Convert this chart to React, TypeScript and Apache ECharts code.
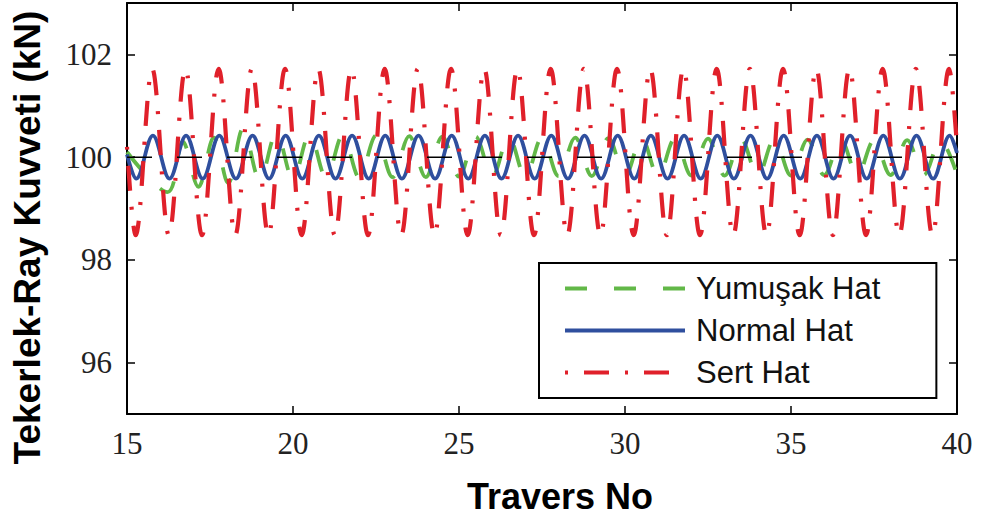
import React, { useEffect, useRef } from 'react';
import * as echarts from 'echarts';

const xTicks = [15, 20, 25, 30, 35, 40];
const yTicks = [96, 98, 100, 102];
const seriesNames = ['Yumuşak Hat', 'Normal Hat', 'Sert Hat'];
const xTitle = 'Travers No';
const yTitle = 'Tekerlek-Ray Kuvveti (kN)';

const referenceLine = [[15, 100], [40, 100]];

const yumusak = [
  [15.0, 100.1], [16.22, 99.32], [16.68, 100.3], [17.15, 99.42], [17.62, 100.38], [18.05, 99.5],
  [18.5, 100.56], [19.0, 99.56], [19.5, 100.46], [20.0, 99.58], [20.5, 100.44], [21.0, 99.6],
  [21.5, 100.43], [22.0, 99.6], [22.5, 100.42], [23.0, 99.61], [23.5, 100.41], [24.0, 99.61],
  [24.5, 100.4], [25.0, 99.62], [25.5, 100.4], [26.0, 99.62], [26.5, 100.39], [27.0, 99.62],
  [27.5, 100.38], [28.0, 99.63], [28.5, 100.38], [29.0, 99.63], [29.5, 100.37], [30.0, 99.63],
  [30.5, 100.37], [31.0, 99.63], [31.5, 100.36], [32.0, 99.64], [32.5, 100.36], [33.0, 99.64],
  [33.5, 100.35], [34.0, 99.64], [34.5, 100.35], [35.0, 99.64], [35.5, 100.34], [36.0, 99.65],
  [36.5, 100.34], [37.0, 99.65], [37.5, 100.33], [38.0, 99.65], [38.5, 100.33], [39.0, 99.65],
  [39.5, 100.32], [40.0, 99.66],
];

const normal = [
  [15.0, 100.05], [15.28, 99.58], [15.78, 100.42], [16.28, 99.58], [16.78, 100.42], [17.28, 99.58],
  [17.78, 100.42], [18.28, 99.58], [18.78, 100.42], [19.28, 99.58], [19.78, 100.42], [20.28, 99.58],
  [20.78, 100.42], [21.28, 99.58], [21.78, 100.42], [22.28, 99.58], [22.78, 100.42], [23.28, 99.58],
  [23.78, 100.42], [24.28, 99.58], [24.78, 100.42], [25.28, 99.58], [25.78, 100.42], [26.28, 99.58],
  [26.78, 100.42], [27.28, 99.58], [27.78, 100.42], [28.28, 99.58], [28.78, 100.42], [29.28, 99.58],
  [29.78, 100.42], [30.28, 99.58], [30.78, 100.42], [31.28, 99.58], [31.78, 100.42], [32.28, 99.58],
  [32.78, 100.42], [33.28, 99.58], [33.78, 100.42], [34.28, 99.58], [34.78, 100.42], [35.28, 99.58],
  [35.78, 100.42], [36.28, 99.58], [36.78, 100.42], [37.28, 99.58], [37.78, 100.42], [38.28, 99.58],
  [38.78, 100.42], [39.28, 99.58], [39.78, 100.42], [40.0, 100.08],
];

const sert = [
  [15.0, 100.2], [15.26, 98.48], [15.76, 101.72], [16.26, 98.48], [16.76, 101.72], [17.26, 98.48],
  [17.76, 101.72], [18.26, 98.48], [18.76, 101.72], [19.26, 98.48], [19.76, 101.72], [20.26, 98.48],
  [20.76, 101.72], [21.26, 98.48], [21.76, 101.72], [22.26, 98.48], [22.76, 101.72], [23.26, 98.48],
  [23.76, 101.72], [24.26, 98.48], [24.76, 101.72], [25.26, 98.48], [25.76, 101.72], [26.26, 98.48],
  [26.76, 101.72], [27.26, 98.48], [27.76, 101.72], [28.26, 98.48], [28.76, 101.72], [29.26, 98.48],
  [29.76, 101.72], [30.26, 98.48], [30.76, 101.72], [31.26, 98.48], [31.76, 101.72], [32.26, 98.48],
  [32.76, 101.72], [33.26, 98.48], [33.76, 101.72], [34.26, 98.48], [34.76, 101.72], [35.26, 98.48],
  [35.76, 101.72], [36.26, 98.48], [36.76, 101.72], [37.26, 98.48], [37.76, 101.72], [38.26, 98.48],
  [38.76, 101.72], [39.26, 98.48], [39.76, 101.72], [40.0, 100.2],
];

const GREEN = '#62b848';
const BLUE = '#2f4f9e';
const RED = '#e0202a';

export default function App() {
  const ref = useRef<HTMLDivElement>(null);
  useEffect(() => {
    if (!ref.current) return;
    const chart = echarts.init(ref.current, null, { renderer: 'svg' });
    const serif = '"Liberation Serif", "Times New Roman", serif';
    const sans = '"Liberation Sans", Arial, sans-serif';
    const axisLine = { show: true, onZero: false, lineStyle: { color: '#000', width: 2 } };
    const tick = { show: true, inside: true, length: 8, lineStyle: { color: '#000', width: 1.5 } };

    chart.setOption({
      animation: false,
      backgroundColor: '#fff',
      grid: { left: 127, top: 3, width: 830, height: 412, containLabel: false },
      xAxis: [
        {
          type: 'value', position: 'bottom', min: 15, max: 40, interval: 5,
          axisLine, axisTick: { ...tick, customValues: xTicks },
          axisLabel: { customValues: xTicks, fontFamily: serif, fontSize: 31, color: '#222', margin: 14 },
          splitLine: { show: false },
          name: xTitle, nameLocation: 'middle', nameGap: 64,
          nameTextStyle: { fontFamily: sans, fontWeight: 'bold', fontSize: 36, color: '#000', padding: [0, 0, 0, 36] },
        },
        {
          type: 'value', position: 'top', min: 15, max: 40, interval: 5,
          axisLine, axisTick: { ...tick, customValues: xTicks }, axisLabel: { show: false },
          splitLine: { show: false },
        },
      ],
      yAxis: [
        {
          type: 'value', position: 'left', min: 95, max: 103,
          axisLine, axisTick: { ...tick, customValues: yTicks },
          axisLabel: { customValues: yTicks, fontFamily: serif, fontSize: 31, color: '#222', margin: 15 },
          splitLine: { show: false },
          name: yTitle, nameLocation: 'middle', nameGap: 81, nameRotate: 90,
          nameTextStyle: { fontFamily: sans, fontWeight: 'bold', fontSize: 37, color: '#000', padding: [0, 58, 0, 0] },
        },
        {
          type: 'value', position: 'right', min: 95, max: 103,
          axisLine, axisTick: { ...tick, customValues: yTicks }, axisLabel: { show: false },
          splitLine: { show: false },
        },
      ],
      legend: {
        data: [
          { name: seriesNames[0] },
          { name: seriesNames[1] },
          { name: seriesNames[2] },
        ],
        orient: 'vertical', left: 539, top: 263,
        itemWidth: 120, itemHeight: 16, itemGap: 11,
        padding: [10, 56, 10, 24],
        itemStyle: { opacity: 0 },
        lineStyle: { width: 4 },
        backgroundColor: '#fff', borderColor: '#000', borderWidth: 2, borderRadius: 0,
        textStyle: { fontFamily: sans, fontSize: 31, color: '#111', padding: [0, 0, 0, 6] },
      },
      series: [
        {
          name: seriesNames[0], type: 'line', data: yumusak, smooth: 0.36, symbol: 'none',
          lineStyle: { color: GREEN, width: 3.8, type: [22, 27] }, itemStyle: { color: GREEN },
        },
        {
          name: seriesNames[1], type: 'line', data: normal, smooth: 0.36, symbol: 'none',
          lineStyle: { color: BLUE, width: 3.8, type: 'solid' }, itemStyle: { color: BLUE },
        },
        {
          name: seriesNames[2], type: 'line', data: sert, smooth: 0.36, symbol: 'none',
          lineStyle: { color: RED, width: 4.2, type: [3, 16, 25, 16] }, itemStyle: { color: RED },
        },
        {
          name: 'ref', type: 'line', data: referenceLine, symbol: 'none', silent: true,
          lineStyle: { color: '#000', width: 1.5, type: [25, 25] }, itemStyle: { color: '#000' },
        },
      ],
    });
    return () => chart.dispose();
  }, []);
  return (
    <div
      ref={ref}
      style={{ position: 'absolute', left: 0, top: 0, width: 993, height: 519, background: '#fff' }}
    />
  );
}
